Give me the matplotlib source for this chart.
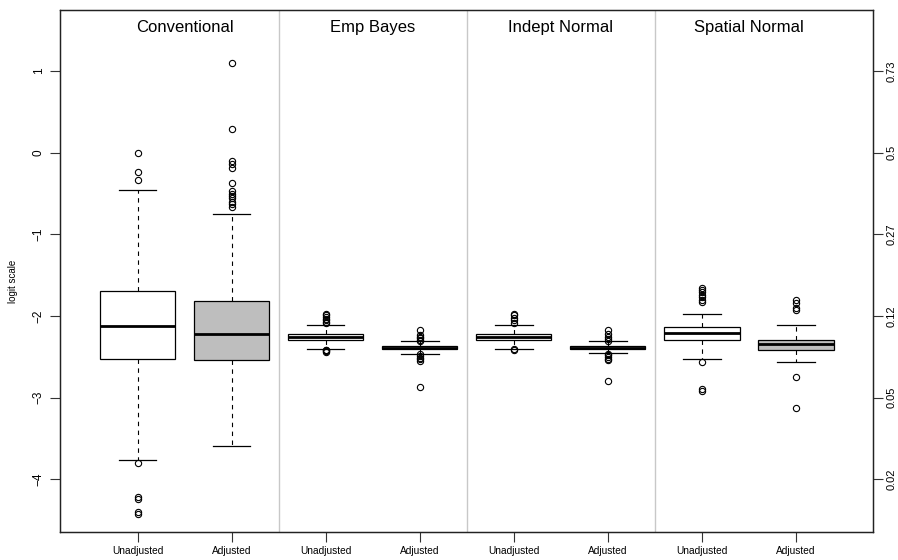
import numpy as np
import matplotlib.pyplot as plt

plt.rcParams['font.family'] = ['Liberation Sans', 'DejaVu Sans']

# model groups and the two box types in each
methods = ['Conventional', 'Emp Bayes', 'Indept Normal', 'Spatial Normal']
kinds = ['Unadjusted', 'Adjusted']

# box summaries on the logit scale, one entry per box (left to right)
medians = [-2.123, -2.225, -2.255, -2.385, -2.255, -2.385, -2.203, -2.345]
q1 = [-2.525, -2.540, -2.295, -2.405, -2.295, -2.405, -2.293, -2.415]
q3 = [-1.688, -1.810, -2.215, -2.365, -2.215, -2.363, -2.137, -2.293]
whis_lo = [-3.765, -3.590, -2.400, -2.460, -2.400, -2.455, -2.530, -2.558]
whis_hi = [-0.460, -0.745, -2.110, -2.300, -2.110, -2.305, -1.970, -2.113]
outliers = [
    [0.0, -0.23, -0.33, -3.80, -4.21, -4.24, -4.40, -4.42],
    [1.10, 0.286, -0.10, -0.14, -0.19, -0.37, -0.47, -0.50, -0.53, -0.56,
     -0.60, -0.63, -0.66],
    [-1.97, -1.99, -2.01, -2.03, -2.05, -2.07, -2.09, -2.41, -2.42, -2.43, -2.44],
    [-2.17, -2.23, -2.25, -2.27, -2.29, -2.31, -2.47, -2.49, -2.51, -2.53,
     -2.55, -2.87],
    [-1.97, -1.99, -2.02, -2.05, -2.08, -2.40, -2.42],
    [-2.17, -2.22, -2.25, -2.28, -2.31, -2.46, -2.48, -2.50, -2.52, -2.54, -2.79],
    [-1.65, -1.68, -1.71, -1.74, -1.77, -1.80, -1.83, -2.56, -2.89, -2.92],
    [-1.80, -1.84, -1.90, -1.93, -2.74, -3.13],
]
fills = ['white', '#BEBEBE'] * 4

logit_ticks = [-4, -3, -2, -1, 0, 1]

fig = plt.figure(figsize=(8.98, 5.6), dpi=100)
ax = fig.add_axes([60 / 898, 1 - 532 / 560, 813 / 898, 522 / 560])

stats = []
for i in range(len(medians)):
    stats.append(dict(med=medians[i], q1=q1[i], q3=q3[i],
                      whislo=whis_lo[i], whishi=whis_hi[i], fliers=outliers[i]))

pos = np.arange(1, len(stats) + 1)
bp = ax.bxp(stats, positions=pos, widths=0.8, capwidths=0.4,
            patch_artist=True, showfliers=True,
            boxprops=dict(edgecolor='black', linewidth=0.9),
            medianprops=dict(color='black', linewidth=2.0),
            whiskerprops=dict(color='black', linewidth=0.8, linestyle=(0, (4, 4))),
            capprops=dict(color='black', linewidth=0.9),
            flierprops=dict(marker='o', markersize=4.5, markerfacecolor='none',
                            markeredgecolor='black', markeredgewidth=0.8,
                            linestyle='none'))
for patch, c in zip(bp['boxes'], fills):
    patch.set_facecolor(c)

# separators between the model groups
for xs in [2.5, 4.5, 6.5]:
    ax.axvline(xs, color='#C8C8C8', linewidth=1.0, zorder=0)

# group titles
for k, name in enumerate(methods):
    ax.text(2 * k + 1.5, 1.53, name, ha='center', va='center', fontsize=12)

ax.set_xlim(0.176, 8.819)
ax.set_ylim(-4.643, 1.747)

ax.set_xticks(pos)
ax.set_xticklabels(kinds * 4, fontsize=7.3)
ax.set_yticks(logit_ticks)
ax.set_yticklabels([str(t).replace('-', '\u2212') for t in logit_ticks],
                   rotation=90, va='center', fontsize=8.5)
ax.tick_params(axis='both', direction='out', length=7, width=0.8, color='#333333')
ax.tick_params(axis='y', pad=4)
ax.tick_params(axis='x', pad=3)
ax.set_ylabel('logit scale', fontsize=7)
ax.yaxis.set_label_coords((18 - 60) / 813, 0.48)
for s in ax.spines.values():
    s.set_linewidth(0.9)
    s.set_color('#222222')

# probability scale on the right
ax2 = ax.twinx()
ax2.set_ylim(ax.get_ylim())
probs = [1 / (1 + np.exp(-t)) for t in logit_ticks]
ax2.set_yticks(logit_ticks)
ax2.set_yticklabels(['%g' % round(p, 2) for p in probs], rotation=90,
                    va='center', fontsize=8)
ax2.tick_params(axis='y', direction='out', length=7, width=0.8, pad=2.5,
                color='#333333')
for s in ax2.spines.values():
    s.set_linewidth(0.9)
    s.set_color('#222222')

fig.savefig('out.png', dpi=100)
